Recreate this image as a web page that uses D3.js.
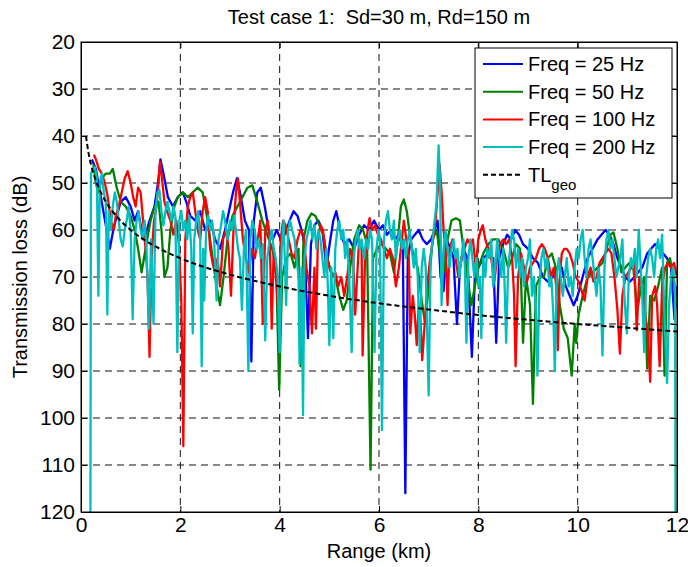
<!DOCTYPE html>
<html>
<head>
<meta charset="utf-8">
<script src="https://cdn.jsdelivr.net/npm/d3@7"></script>
<style>
  body { margin: 0; background: #fff; }
  svg { display: block; font-family: "Liberation Sans", Arial, sans-serif; }
  .axis text { font-size: 21px; fill: #000; }
  .axis path, .axis line { stroke: #000; }
  .grid line { stroke: #111; stroke-dasharray: 7,5; }
</style>
</head>
<body>
<svg id="chart"></svg>
<script>
// transmission loss curves, [range km, TL dB]
const tl25 = [[0.22,45],[0.3,47],[0.4,53],[0.5,59],[0.58,64],[0.65,60],[0.72,57],[0.8,54],[0.9,53],[1.0,55],[1.08,58],[1.15,56],[1.22,60],[1.3,61],[1.38,58],[1.48,55],[1.55,50],[1.6,45],[1.66,48],[1.75,53],[1.85,55],[1.95,53],[2.05,52],[2.12,54],[2.2,57],[2.3,58],[2.4,56],[2.5,60],[2.6,58],[2.7,62],[2.8,64],[2.9,60],[2.98,56],[3.06,52],[3.14,49],[3.22,53],[3.3,58],[3.38,60],[3.43,88],[3.48,58],[3.55,52],[3.62,51],[3.7,55],[3.78,60],[3.86,62],[3.94,60],[4.02,62],[4.1,61],[4.2,58],[4.28,56],[4.36,57],[4.44,60],[4.5,63],[4.57,83],[4.63,63],[4.7,59],[4.78,58],[4.86,60],[4.94,68],[5.02,62],[5.08,58],[5.14,56],[5.22,60],[5.3,63],[5.4,62],[5.5,64],[5.6,61],[5.7,59],[5.8,60],[5.9,58],[6.0,60],[6.08,59],[6.16,61],[6.24,60],[6.32,62],[6.4,61],[6.48,64],[6.53,116],[6.58,66],[6.65,62],[6.72,61],[6.8,60],[6.88,62],[6.96,63],[7.05,62],[7.12,60],[7.18,58],[7.24,70],[7.3,73],[7.36,62],[7.44,64],[7.5,66],[7.57,80],[7.63,68],[7.7,64],[7.78,66],[7.87,87],[7.93,70],[8.0,68],[8.1,66],[8.2,65],[8.3,66],[8.36,84],[8.42,66],[8.5,63],[8.58,61],[8.66,62],[8.74,60],[8.82,61],[8.9,63],[9.0,64],[9.1,66],[9.2,67],[9.3,70],[9.4,71],[9.5,70],[9.6,68],[9.68,68],[9.76,72],[9.84,74],[9.92,76],[10.0,74],[10.1,70],[10.2,66],[10.3,64],[10.4,62],[10.48,61],[10.56,60],[10.64,61],[10.72,63],[10.8,66],[10.88,68],[10.96,70],[11.05,71],[11.14,70],[11.22,69],[11.3,68],[11.4,65],[11.48,64],[11.56,63],[11.64,64],[11.72,65],[11.8,66],[11.88,68],[11.95,79],[12.0,72]];

const tl50 = [[0.25,46],[0.3,50],[0.35,52],[0.42,49],[0.5,48],[0.58,48],[0.64,47],[0.72,51],[0.8,54],[0.9,55],[1.0,57],[1.08,60],[1.15,64],[1.22,69],[1.3,64],[1.4,58],[1.48,55],[1.56,54],[1.62,60],[1.68,70],[1.74,68],[1.8,60],[1.88,55],[1.95,53],[2.05,52],[2.15,53],[2.25,52],[2.35,51],[2.45,52],[2.55,58],[2.65,66],[2.73,72],[2.8,76],[2.87,70],[2.95,62],[3.05,57],[3.15,55],[3.25,53],[3.35,51],[3.45,50.5],[3.55,54],[3.65,58],[3.75,61],[3.85,64],[3.93,68],[3.99,94],[4.05,70],[4.13,66],[4.22,65],[4.3,68],[4.38,64],[4.42,89],[4.48,62],[4.56,58],[4.64,56.5],[4.72,57],[4.8,59],[4.88,61],[4.96,66],[5.04,69],[5.12,70],[5.2,74],[5.28,77],[5.35,75],[5.42,68],[5.5,62],[5.6,59],[5.68,60],[5.76,63],[5.83,111],[5.88,66],[5.96,64],[6.05,63],[6.14,64],[6.22,65],[6.3,69],[6.38,62],[6.44,55],[6.5,53.5],[6.56,56],[6.62,61],[6.7,66],[6.78,68],[6.86,75],[6.93,80],[7.0,72],[7.08,62],[7.16,60],[7.24,66],[7.3,69],[7.38,62],[7.46,58],[7.55,57.5],[7.63,58],[7.7,64],[7.78,70],[7.86,76],[7.93,72],[8.0,68],[8.1,65],[8.2,63],[8.3,62],[8.4,62],[8.5,64],[8.6,68],[8.68,66],[8.76,63],[8.84,64],[8.9,84],[8.96,70],[9.04,76],[9.1,97],[9.16,72],[9.24,70],[9.32,70],[9.4,66],[9.48,65],[9.56,68],[9.64,76],[9.72,81],[9.8,83],[9.88,91],[9.94,80],[9.97,84],[10.02,78],[10.1,74],[10.2,70],[10.3,69],[10.4,68],[10.5,67],[10.58,64],[10.66,61],[10.72,60.5],[10.8,64],[10.88,69],[10.96,68],[11.04,67],[11.12,68],[11.2,77],[11.28,72],[11.34,70],[11.4,89.5],[11.46,74],[11.54,75],[11.62,72],[11.7,68],[11.75,91],[11.8,67],[11.86,66],[11.92,70],[12.0,76]];

const tl100 = [[0.26,44],[0.3,45],[0.36,47],[0.42,48],[0.48,50],[0.54,53],[0.6,58],[0.66,60],[0.7,57],[0.76,55],[0.82,52],[0.88,49],[0.94,47.5],[1.0,50],[1.05,53],[1.1,55],[1.15,51],[1.2,52],[1.25,58],[1.3,64],[1.34,70],[1.38,87],[1.42,66],[1.47,58],[1.52,55],[1.56,50],[1.59,45.5],[1.63,49],[1.68,54],[1.73,56],[1.8,58],[1.86,61],[1.92,58],[1.97,63],[2.02,75],[2.06,106],[2.1,62],[2.15,55],[2.2,53],[2.25,52],[2.3,56],[2.35,60],[2.4,62],[2.45,56],[2.5,53],[2.55,56],[2.6,64],[2.65,67],[2.7,69],[2.75,66],[2.8,72],[2.86,62],[2.92,60],[2.97,64],[3.02,74],[3.07,60],[3.12,52],[3.16,49],[3.2,54],[3.26,62],[3.32,66],[3.38,69],[3.44,64],[3.5,66],[3.56,62],[3.61,58],[3.66,80],[3.71,60],[3.76,58],[3.8,62],[3.84,81],[3.88,64],[3.94,72],[3.98,79],[4.02,62],[4.07,58],[4.12,59],[4.18,62],[4.24,65],[4.3,66],[4.36,62],[4.42,60],[4.48,61],[4.54,68],[4.6,72],[4.65,82],[4.7,68],[4.73,81],[4.77,62],[4.82,59],[4.87,60],[4.93,65],[5.0,68],[5.06,70],[5.12,69],[5.18,72],[5.24,70],[5.3,74],[5.36,70],[5.42,64],[5.48,66],[5.52,78],[5.56,70],[5.6,62],[5.65,64],[5.67,86.7],[5.72,66],[5.77,60],[5.81,57.5],[5.86,60],[5.92,59],[5.98,61],[6.04,62],[6.1,64],[6.16,66],[6.22,64],[6.28,66],[6.34,72],[6.4,68],[6.46,62],[6.5,58],[6.55,62],[6.6,66],[6.63,82],[6.68,74],[6.72,78],[6.76,84.5],[6.8,76],[6.84,80],[6.87,87.7],[6.92,80],[6.97,72],[7.03,66],[7.09,62],[7.14,58],[7.18,52],[7.22,46],[7.26,52],[7.3,60],[7.34,64],[7.38,76],[7.42,64],[7.48,62],[7.54,66],[7.6,70],[7.66,66],[7.72,64],[7.78,62],[7.84,63],[7.89,62],[7.95,68],[8.0,62],[8.05,60],[8.09,59],[8.14,62],[8.2,64],[8.26,66],[8.32,71],[8.38,66],[8.44,63],[8.5,62],[8.56,63],[8.62,62],[8.68,66],[8.72,74],[8.75,89],[8.8,70],[8.86,65],[8.92,68],[8.98,71],[9.04,68],[9.1,67],[9.16,66],[9.22,64],[9.28,63],[9.34,64],[9.4,66],[9.46,70],[9.52,68],[9.57,72],[9.6,85.6],[9.64,70],[9.68,65],[9.73,64],[9.78,64],[9.84,65],[9.9,67],[9.96,70],[10.02,71],[10.08,73],[10.14,75],[10.2,70],[10.26,68],[10.32,71],[10.38,70],[10.44,67],[10.5,66],[10.56,65],[10.62,64],[10.68,65],[10.74,70],[10.8,77],[10.85,86.3],[10.9,74],[10.96,70],[11.02,69],[11.08,68],[11.14,67],[11.19,81.3],[11.24,70],[11.3,72],[11.36,78],[11.41,82],[11.46,92.3],[11.5,74],[11.56,72],[11.6,76],[11.65,89],[11.7,72],[11.76,68],[11.82,67],[11.88,68],[11.94,67],[12.0,70]];

const tl200 = [[0.19,120],[0.2,48],[0.24,47],[0.28,46.6],[0.32,49],[0.35,74],[0.38,50],[0.42,48],[0.46,52],[0.5,54],[0.53,78],[0.56,56],[0.6,60],[0.64,55],[0.68,52],[0.72,54],[0.76,58],[0.8,62],[0.84,63.5],[0.88,60],[0.92,58],[0.96,55],[1.0,60],[1.04,79],[1.08,62],[1.12,58],[1.16,56],[1.2,60],[1.24,62],[1.28,58],[1.32,64],[1.37,81],[1.41,62],[1.46,80],[1.5,56],[1.54,52],[1.58,51.5],[1.62,56],[1.66,59],[1.7,56],[1.74,54],[1.78,56],[1.82,58],[1.86,55],[1.9,57],[1.94,86],[1.98,58],[2.02,56],[2.06,60],[2.1,58],[2.14,62],[2.18,57],[2.22,64],[2.25,82],[2.28,62],[2.32,58],[2.36,56],[2.4,62],[2.43,89],[2.46,64],[2.48,75],[2.52,60],[2.56,57],[2.6,60],[2.64,58],[2.68,62],[2.73,75],[2.77,62],[2.82,59],[2.86,56],[2.9,58],[2.95,62],[3.0,58],[3.04,60],[3.08,57],[3.12,60],[3.16,64],[3.2,66],[3.24,77],[3.28,64],[3.32,60],[3.37,90],[3.41,62],[3.45,58],[3.5,60],[3.54,64],[3.58,62],[3.62,66],[3.66,63],[3.71,83.5],[3.75,66],[3.8,62],[3.84,60],[3.88,64],[3.92,66],[3.96,70],[4.0,86],[4.04,64],[4.08,58],[4.13,76],[4.17,60],[4.21,58],[4.25,60],[4.3,62],[4.34,66],[4.38,70],[4.4,88.5],[4.44,68],[4.47,99.4],[4.5,66],[4.54,62],[4.58,60],[4.62,58],[4.66,62],[4.7,59],[4.74,64],[4.78,60],[4.82,62],[4.86,66],[4.9,70],[4.94,64],[4.97,72],[5.0,84.5],[5.04,68],[5.08,83],[5.12,64],[5.16,60],[5.2,58],[5.24,62],[5.28,60],[5.32,66],[5.36,62],[5.4,70],[5.45,86],[5.49,66],[5.53,62],[5.57,60],[5.61,64],[5.65,62],[5.7,66],[5.74,62],[5.78,64],[5.82,60],[5.86,62],[5.91,86],[5.95,64],[5.99,60],[6.02,62],[6.06,102.6],[6.1,62],[6.14,58],[6.18,56],[6.22,60],[6.26,62],[6.3,58],[6.34,66],[6.38,62],[6.42,60],[6.46,64],[6.5,62],[6.54,66],[6.58,62],[6.62,60],[6.66,64],[6.7,68],[6.74,64],[6.78,70],[6.82,86],[6.86,68],[6.9,64],[6.94,68],[7.0,95.2],[7.04,66],[7.08,62],[7.12,58],[7.16,54],[7.2,42],[7.23,50],[7.26,76],[7.3,64],[7.34,60],[7.38,64],[7.42,68],[7.46,64],[7.5,62],[7.54,66],[7.58,64],[7.62,70],[7.66,66],[7.7,62],[7.73,68],[7.76,84],[7.8,66],[7.84,62],[7.88,66],[7.92,70],[7.96,66],[8.0,72],[8.03,70],[8.06,83],[8.1,66],[8.14,70],[8.18,64],[8.22,66],[8.26,62],[8.3,72],[8.34,68],[8.38,62],[8.42,66],[8.46,70],[8.5,64],[8.53,72],[8.56,84],[8.6,68],[8.64,64],[8.68,60],[8.72,62],[8.76,68],[8.8,64],[8.84,70],[8.88,66],[8.92,72],[8.96,68],[9.0,66],[9.04,62],[9.08,74],[9.12,70],[9.16,78],[9.19,91],[9.23,72],[9.27,66],[9.31,64],[9.35,68],[9.39,66],[9.43,72],[9.47,70],[9.51,78],[9.54,90],[9.58,70],[9.62,66],[9.66,70],[9.7,74],[9.74,70],[9.78,66],[9.82,72],[9.86,70],[9.9,74],[9.94,68],[9.98,64],[10.02,66],[10.06,62],[10.1,60],[10.14,66],[10.18,70],[10.22,64],[10.26,62],[10.3,66],[10.34,70],[10.38,74],[10.42,68],[10.46,72],[10.5,86.7],[10.54,68],[10.58,62],[10.62,60],[10.66,64],[10.7,62],[10.74,66],[10.78,70],[10.82,68],[10.86,66],[10.9,62],[10.94,74],[10.99,82],[11.03,70],[11.07,66],[11.11,68],[11.15,64],[11.19,70],[11.23,60],[11.27,68],[11.3,74],[11.34,86],[11.38,70],[11.42,66],[11.46,64],[11.5,66],[11.54,70],[11.58,64],[11.62,62],[11.66,66],[11.7,61],[11.74,76],[11.8,92.6],[11.84,76],[11.88,70],[11.92,68],[11.96,72],[11.97,120]];

// geometric spreading reference
const tlGeo = [[0.1,40],[0.15,43.5],[0.2,46],[0.3,49.5],[0.4,52],[0.5,54],[0.75,57.5],[1,60],[1.5,63.5],[2,66],[3,69.5],[4,72],[5,74],[6,75.6],[7,76.9],[8,78.1],[9,79.1],[10,80],[11,80.8],[12,81.6]];

const series = [
  { name: "Freq = 25 Hz", color: "#0000ff", data: tl25 },
  { name: "Freq = 50 Hz", color: "#008000", data: tl50 },
  { name: "Freq = 100 Hz", color: "#ff0000", data: tl100 },
  { name: "Freq = 200 Hz", color: "#00bfbf", data: tl200 }
];

const xTicks = [0, 2, 4, 6, 8, 10, 12];
const yTicks = [20, 30, 40, 50, 60, 70, 80, 90, 100, 110, 120];

const width = 688;
const height = 567;
const margin = { top: 42, right: 11, bottom: 55, left: 81 };
const w = width - margin.left - margin.right;
const h = height - margin.top - margin.bottom;

const svg = d3.select("#chart").attr("width", width).attr("height", height);

const x = d3.scaleLinear().domain([0, 12]).range([0, w]);
const y = d3.scaleLinear().domain([20, 120]).range([0, h]);

const g = svg.append("g").attr("transform", `translate(${margin.left},${margin.top})`);

g.append("clipPath").attr("id", "clip")
  .append("rect").attr("width", w).attr("height", h);

// grid
g.append("g").attr("class", "grid")
  .selectAll("line.v")
  .data(xTicks.slice(1, -1))
  .enter().append("line")
  .attr("x1", d => x(d)).attr("x2", d => x(d))
  .attr("y1", 0).attr("y2", h);

g.append("g").attr("class", "grid")
  .selectAll("line.h")
  .data(yTicks.slice(1, -1))
  .enter().append("line")
  .attr("x1", 0).attr("x2", w)
  .attr("y1", d => y(d)).attr("y2", d => y(d));

const line = d3.line().x(d => x(d[0])).y(d => y(d[1]));

const plot = g.append("g").attr("clip-path", "url(#clip)");

series.forEach(s => {
  plot.append("path")
    .datum(s.data)
    .attr("fill", "none")
    .attr("stroke", s.color)
    .attr("stroke-width", 2.3)
    .attr("stroke-linejoin", "round")
    .attr("d", line);
});

plot.append("path")
  .datum(tlGeo)
  .attr("fill", "none")
  .attr("stroke", "#000")
  .attr("stroke-width", 2)
  .attr("stroke-dasharray", "5,3")
  .attr("d", line.curve(d3.curveMonotoneX));

// axes, ticks pointing inward on all four sides
const tick = 6;
g.append("g").attr("class", "axis")
  .attr("transform", `translate(0,${h})`)
  .call(d3.axisBottom(x).tickValues(xTicks).tickSizeInner(-tick).tickSizeOuter(0).tickPadding(5));
g.append("g").attr("class", "axis")
  .call(d3.axisTop(x).tickValues(xTicks).tickSizeInner(-tick).tickSizeOuter(0).tickFormat(""));
g.append("g").attr("class", "axis")
  .call(d3.axisLeft(y).tickValues(yTicks).tickSizeInner(-tick).tickSizeOuter(0).tickPadding(6));
g.append("g").attr("class", "axis")
  .attr("transform", `translate(${w},0)`)
  .call(d3.axisRight(y).tickValues(yTicks).tickSizeInner(-tick).tickSizeOuter(0).tickFormat(""));

g.append("rect")
  .attr("width", w).attr("height", h)
  .attr("fill", "none").attr("stroke", "#000").attr("stroke-width", 1);

// titles
svg.append("text")
  .attr("x", margin.left + w / 2).attr("y", 24)
  .attr("text-anchor", "middle").attr("font-size", 20)
  .text("Test case 1:  Sd=30 m, Rd=150 m")
  .attr("xml:space", "preserve");

svg.append("text")
  .attr("x", margin.left + w / 2).attr("y", 558)
  .attr("text-anchor", "middle").attr("font-size", 20)
  .text("Range (km)");

svg.append("text")
  .attr("transform", `translate(27,${margin.top + h / 2}) rotate(-90)`)
  .attr("text-anchor", "middle").attr("font-size", 20)
  .text("Transmission loss (dB)");

// legend
const legend = svg.append("g").attr("transform", "translate(475,48)");
legend.append("rect")
  .attr("width", 197).attr("height", 150)
  .attr("fill", "#fff").attr("stroke", "#000");

const rowY = i => 16 + i * 27.7;

series.forEach((s, i) => {
  legend.append("line")
    .attr("x1", 8).attr("x2", 48)
    .attr("y1", rowY(i)).attr("y2", rowY(i))
    .attr("stroke", s.color).attr("stroke-width", 2);
  legend.append("text")
    .attr("x", 53).attr("y", rowY(i) + 7)
    .attr("font-size", 20)
    .text(s.name);
});

legend.append("line")
  .attr("x1", 8).attr("x2", 48)
  .attr("y1", rowY(4)).attr("y2", rowY(4))
  .attr("stroke", "#000").attr("stroke-width", 2)
  .attr("stroke-dasharray", "5,3");

const geoLabel = legend.append("text")
  .attr("x", 53).attr("y", rowY(4) + 7)
  .attr("font-size", 20);
geoLabel.append("tspan").text("TL");
geoLabel.append("tspan").attr("font-size", 15).attr("dy", 8).text("geo");
</script>
</body>
</html>
